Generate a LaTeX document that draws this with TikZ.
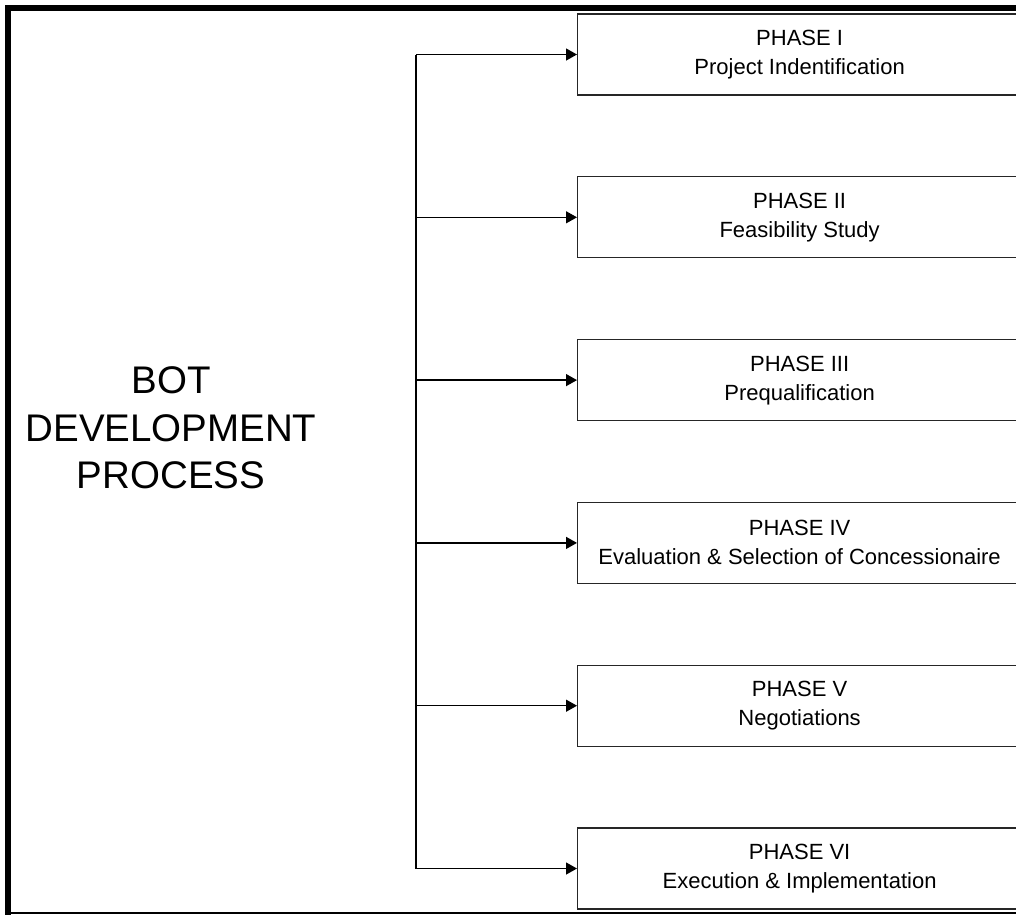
\documentclass[tikz,border=0pt]{standalone}
\usepackage{fontspec}
\setmainfont{Liberation Sans}
\usetikzlibrary{arrows.meta}

\tikzset{
	phase/.style={
		rectangle, draw=black!85, line width=1.2pt, fill=white,
		minimum width=444pt, minimum height=81pt, anchor=west,
		align=center, font=\fontsize{22}{29}\selectfont
	},
	branch/.style={line width=1.3pt, -{Triangle[length=11pt,width=12pt]}}
}

\begin{document}
\begin{tikzpicture}[x=1pt, y=-1pt]
		\useasboundingbox (0,0) rectangle (1016,914);
		\clip (0,0) rectangle (1016,914);

		% frame
		\draw[line width=6pt] (8,916) -- (8,8) -- (1030,8);
		\draw[line width=1.5pt] (5,913) -- (1030,913);

		\node[align=center, font=\fontsize{38.5}{47.5}\selectfont] (BOT) at (171,428)
			{BOT\\DEVELOPMENT\\PROCESS};

		\node[phase] (P1) at (577,54.5) {PHASE I\\Project Indentification};
		\node[phase] (P2) at (577,217.3) {PHASE II\\Feasibility Study};
		\node[phase] (P3) at (577,380.1) {PHASE III\\Prequalification};
		\node[phase] (P4) at (577,542.9) {PHASE IV\\Evaluation \& Selection of Concessionaire};
		\node[phase] (P5) at (577,705.7) {PHASE V\\Negotiations};
		\node[phase] (P6) at (577,868.5) {PHASE VI\\Execution \& Implementation};

		\coordinate (J1) at (416,54.5);
		\coordinate (J2) at (416,217.3);
		\coordinate (J3) at (416,380.1);
		\coordinate (J4) at (416,542.9);
		\coordinate (J5) at (416,705.7);
		\coordinate (J6) at (416,868.5);

		\draw[line width=1.3pt] (J1) -- (J6);
		\draw[branch] (J1) -- (P1.west);
		\draw[branch] (J2) -- (P2.west);
		\draw[branch] (J3) -- (P3.west);
		\draw[branch] (J4) -- (P4.west);
		\draw[branch] (J5) -- (P5.west);
		\draw[branch] (J6) -- (P6.west);
	\end{tikzpicture}
\end{document}
